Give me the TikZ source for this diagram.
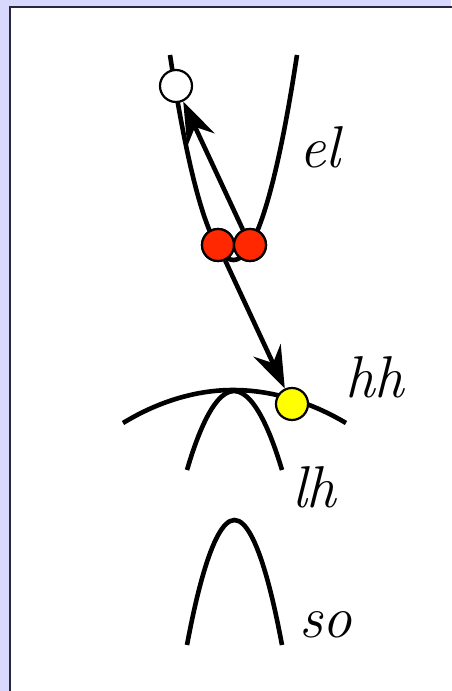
\documentclass[tikz,border=0pt]{standalone}
\usetikzlibrary{arrows.meta}
\definecolor{bgl}{RGB}{216,216,252}
\definecolor{framec}{RGB}{40,40,60}
\definecolor{dotred}{RGB}{255,40,0}
\definecolor{dotyel}{RGB}{255,255,0}
\begin{document}
\begin{tikzpicture}[x=1pt,y=-1pt,
  band/.style={line width=4.6pt},
  dotc/.style={circle,draw=black,line width=2.2pt,minimum size=32pt,inner sep=0pt},
  jump/.style={line width=4.6pt,-{Stealth[length=42pt,width=30pt,inset=14pt]}},
  lbl/.style={anchor=base west,inner sep=0pt,font=\fontsize{59}{59}\selectfont\itshape}]
\useasboundingbox (0,0) rectangle (451,691);
\fill[bgl] (0,0) rectangle (451,691);
\filldraw[fill=white,draw=framec,line width=2pt] (10,7) rectangle (460,700);
% bands
\draw[band] (170,55) parabola bend (233.5,260) (297,55);
\draw[band] (123,423) parabola bend (233,390) (346,423);
\draw[band] (187,470) parabola bend (234,391) (282,470);
\draw[band] (187,645) parabola bend (234.5,520) (282,645);
% dots
\node[dotc,fill=white] (w) at (176,86) {};
\node[dotc,fill=dotred] (r1) at (218,245) {};
\node[dotc,fill=dotred] (r2) at (250,245) {};
\node[dotc,fill=dotyel] (y) at (292,404) {};
% arrows
\draw[jump] (r2) -- (w);
\draw[jump] (r1) -- (y);
% redraw dots on top
\node[dotc,fill=dotred] at (218,245) {};
\node[dotc,fill=dotred] at (250,245) {};
% labels
\node[lbl] (lel) at (299,167) {el};
\node[lbl] (lhh) at (345,397) {hh};
\node[lbl] (llh) at (292,507) {lh};
\node[lbl] (lso) at (299,637) {so};
\end{tikzpicture}
\end{document}
